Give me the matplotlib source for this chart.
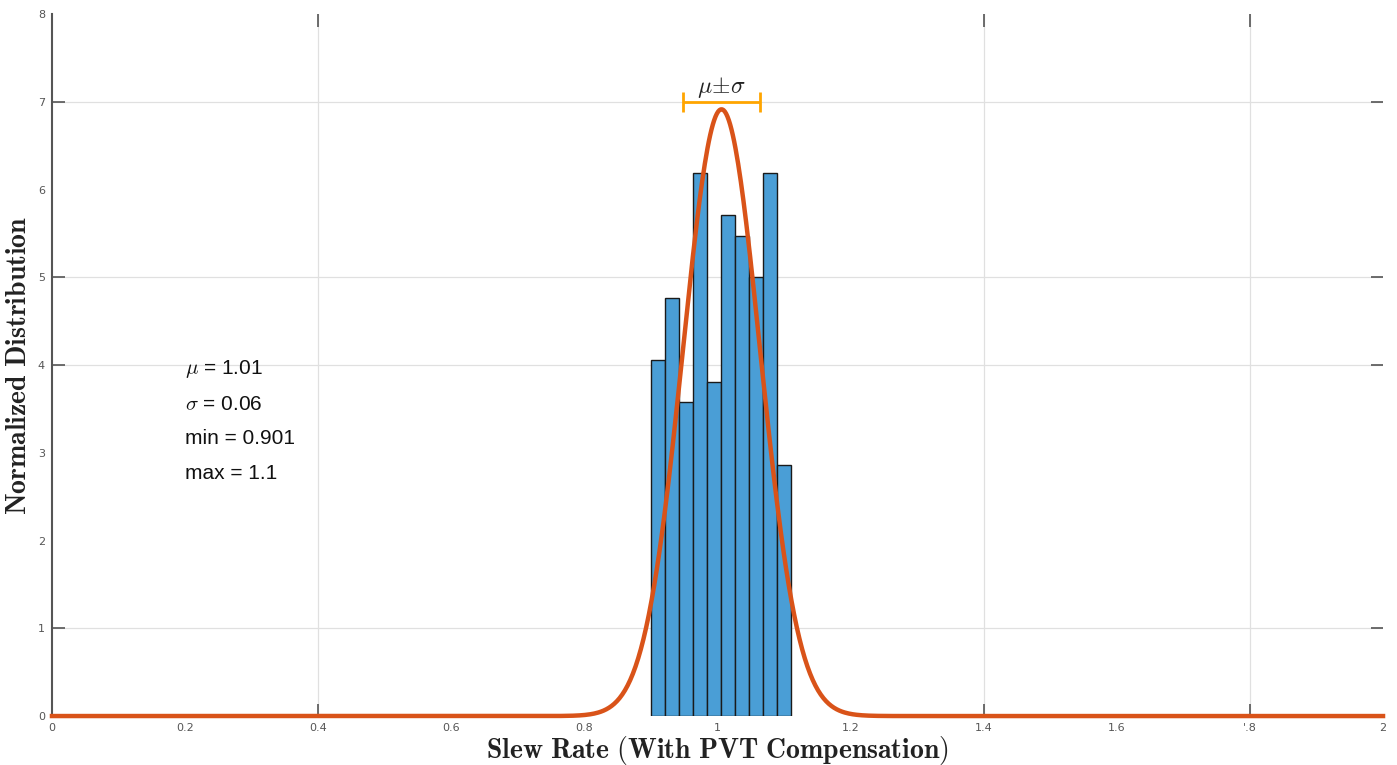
import numpy as np
import matplotlib.pyplot as plt

# --- DATA ---
bin_edges = [0.900, 0.921, 0.942, 0.963, 0.984, 1.005, 1.026, 1.047, 1.068, 1.089, 1.110]
bin_heights = [4.06, 4.76, 3.58, 6.19, 3.81, 5.71, 5.47, 5.00, 6.19, 2.86]
mu = 1.006
sigma = 0.0577
stats_lines = [r'$\mu$ = 1.01', r'$\sigma$ = 0.06', 'min = 0.901', 'max = 1.1']

x_ticks = [0, 0.2, 0.4, 0.6, 0.8, 1, 1.2, 1.4, 1.6, 1.8, 2]
x_labels = ['0', '0.2', '0.4', '0.6', '0.8', '1', '1.2', '1.4', '1.6', "'.8", '2']
y_ticks = [0, 1, 2, 3, 4, 5, 6, 7, 8]
x_grid = [0.4, 1.4, 1.8]
y_grid = [1, 4, 5, 7]

plt.rcParams['mathtext.fontset'] = 'cm'

fig = plt.figure(figsize=(13.97, 7.65), dpi=100)
ax = fig.add_axes([0.0372, 0.064, 0.9528, 0.9177])

# histogram bars
widths = np.diff(bin_edges)
ax.bar(bin_edges[:-1], bin_heights, width=widths, align='edge',
       color='#4A9ED6', edgecolor='#1a1a1a', linewidth=1.0, zorder=2)

# fitted normal curve
xs = np.linspace(0, 2, 1000)
pdf = np.exp(-0.5 * ((xs - mu) / sigma) ** 2) / (sigma * np.sqrt(2 * np.pi))
ax.plot(xs, pdf, color='#D95319', linewidth=3.2, zorder=3, clip_on=False)

# mu +- sigma bar
ax.errorbar(mu, 7.0, xerr=sigma, color='#FFA500', linewidth=2, capsize=7,
            capthick=2, zorder=4)
ax.text(mu, 7.02, r'$\mu\!\pm\!\sigma$', ha='center', va='bottom', fontsize=17,
        color='#222222')

# stats text
for i, line in enumerate(stats_lines):
    ax.text(0.20, 3.95 - i * 0.395, line, fontsize=15, family='Liberation Sans',
            color='#111111', va='center')

ax.set_xlim(0, 2)
ax.set_ylim(0, 8)
ax.set_xticks(x_ticks)
ax.set_xticklabels(x_labels)
ax.set_yticks(y_ticks)
ax.tick_params(which='major', length=0, labelsize=8, labelcolor='#555555', pad=5)
ax.xaxis.remove_overlapping_locs = False
ax.yaxis.remove_overlapping_locs = False
ax.set_xticks(x_grid, minor=True)
ax.set_yticks(y_grid, minor=True)
ax.tick_params(which='minor', direction='in', length=9, width=1.2, color='#555555',
               top=True, right=True)
ax.grid(which='minor', color='#e0e0e0', linewidth=0.9, zorder=0)
ax.set_axisbelow(True)

for side in ['top', 'right', 'bottom']:
    ax.spines[side].set_visible(False)
ax.spines['left'].set_color('#555555')
ax.spines['left'].set_linewidth(1.5)

ax.set_xlabel(r'$\mathbf{Slew\ Rate\ (With\ PVT\ Compensation)}$', fontsize=20,
              labelpad=1, color='#222222')
ax.set_ylabel(r'$\mathbf{Normalized\ Distribution}$', fontsize=20, labelpad=4,
              color='#222222')

fig.savefig('out.png', dpi=100)
